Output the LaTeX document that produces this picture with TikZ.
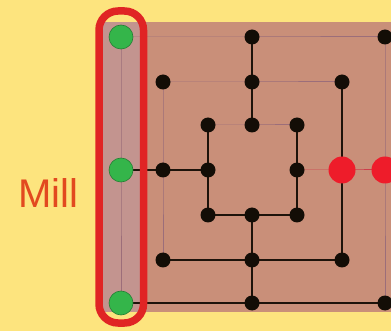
\documentclass[tikz,border=0pt]{standalone}
\usepackage{fontspec}
\setmainfont{Liberation Sans}
\begin{document}
\begin{tikzpicture}[x=1pt,y=-1pt,
  dark/.style={draw=black!85!brown, line width=1.3pt},
  faint/.style={draw=faintc, line width=1pt},
  pt/.style={circle, fill=black!90!brown, inner sep=0pt, minimum size=15pt},
  greenpt/.style={circle, fill=greenc, draw=greenc!70!black, line width=0.6pt, inner sep=0pt, minimum size=24pt},
  redpt/.style={circle, fill=redc, inner sep=0pt, minimum size=27pt}]
\definecolor{bgc}{HTML}{FDE47E}
\definecolor{boardc}{HTML}{C98F79}
\definecolor{colc}{HTML}{C3948F}
\definecolor{faintc}{HTML}{9C6E7A}
\definecolor{greenc}{HTML}{34B54A}
\definecolor{redc}{HTML}{EE1C2A}
\definecolor{rectc}{HTML}{E02424}
\definecolor{textc}{HTML}{E2491F}
\useasboundingbox (0,0) rectangle (391,331);
\fill[bgc] (0,0) rectangle (391,331);
\fill[boardc] (106,22) rectangle (391,312);
\fill[colc] (103,22) rectangle (141,312);
% points
\coordinate (otl) at (121,37);  \coordinate (otm) at (252,37);  \coordinate (otr) at (385,37);
\coordinate (oml) at (121,170); \coordinate (omr) at (385,170);
\coordinate (obl) at (121,303); \coordinate (obm) at (252,303); \coordinate (obr) at (385,303);
\coordinate (mtl) at (163,82);  \coordinate (mtm) at (252,82);  \coordinate (mtr) at (342,82);
\coordinate (mml) at (163,170); \coordinate (mmr) at (342,170);
\coordinate (mbl) at (163,260); \coordinate (mbm) at (252,260); \coordinate (mbr) at (342,260);
\coordinate (itl) at (208,125); \coordinate (itm) at (252,125); \coordinate (itr) at (297,125);
\coordinate (iml) at (208,170); \coordinate (imr) at (297,170);
\coordinate (ibl) at (208,215); \coordinate (ibm) at (252,215); \coordinate (ibr) at (297,215);
% faint lines
\draw[faint] (otl) -- (otm) -- (otr);
\draw[faint] (otl) -- (oml) -- (obl);
\draw[faint] (otr) -- (omr) -- (obr);
\draw[faint] (mtl) -- (mtm) -- (mtr);
\draw[faint] (itl) -- (itm) -- (itr);
\draw[faint] (mtl) -- (mml) -- (mbl);
\draw[faint, draw=redc!60!faintc] (imr) -- (mmr) -- (omr);
% dark lines
\draw[dark] (otm) -- (mtm) -- (itm);
\draw[dark] (obm) -- (mbm) -- (ibm);
\draw[dark] (oml) -- (mml) -- (iml);
\draw[dark] (itl) -- (iml) -- (ibl);
\draw[dark] (itr) -- (imr) -- (ibr);
\draw[dark] (ibl) -- (ibm) -- (ibr);
\draw[dark] (mbl) -- (mbm) -- (mbr);
\draw[dark] (mtr) -- (mmr) -- (mbr);
\draw[dark] (obl) -- (obm) -- (obr);
% dots
\foreach \p in {otm,otr,obm,obr,mtl,mtm,mtr,mml,mbl,mbm,mbr,itl,itm,itr,iml,imr,ibl,ibm,ibr}
  \node[pt] (n\p) at (\p) {};
\node[redpt] (rmid) at (mmr) {};
\node[redpt] (rout) at (omr) {};
\node[greenpt] (gtop) at (otl) {};
\node[greenpt] (gmid) at (oml) {};
\node[greenpt] (gbot) at (obl) {};
% mill frame
\draw[rectc, line width=7.5pt, rounded corners=19pt] (99,11) rectangle (143.5,323);
\node[text=textc, font=\fontsize{40}{40}\selectfont, inner sep=0pt] (mill) at (48,193) {Mill};
\end{tikzpicture}
\end{document}
